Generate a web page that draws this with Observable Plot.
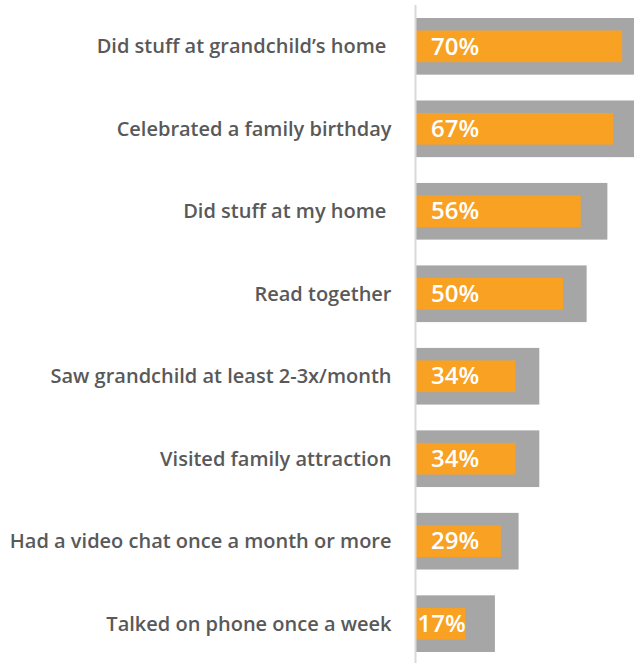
<!DOCTYPE html>
<html>
<head>
<meta charset="utf-8">
<script src="https://cdn.jsdelivr.net/npm/d3@7"></script>
<script src="https://cdn.jsdelivr.net/npm/@observablehq/plot@0.6"></script>
<style>
  html, body { margin: 0; padding: 0; background: #fff; overflow: hidden; }
  #chart svg { display: block; }
</style>
</head>
<body>
<div id="chart"></div>
<script>
const categories = [
  "Did stuff at grandchild’s home ",
  "Celebrated a family birthday",
  "Did stuff at my home ",
  "Read together",
  "Saw grandchild at least 2-3x/month",
  "Visited family attraction",
  "Had a video chat once a month or more",
  "Talked on phone once a week"
];
const orangeValues = [70, 67, 56, 50, 34, 34, 29, 17];
const grayValues = [78, 76, 65, 58, 42, 42, 35, 27];
const valueLabels = ["70%", "67%", "56%", "50%", "34%", "34%", "29%", "17%"];

const rows = categories.map((c, i) => ({
  category: c,
  value: orangeValues[i],
  gray: grayValues[i],
  label: valueLabels[i]
}));

const chart = Plot.plot({
  width: 634,
  height: 663,
  marginLeft: 415,
  marginRight: 0,
  marginTop: 5,
  marginBottom: 0,
  style: { fontFamily: "'Open Sans', sans-serif", fontWeight: 600, color: "#595959", background: "#fff" },
  x: { domain: [0, 74], axis: null },
  y: { domain: categories, range: [18, 652], paddingInner: 0.313, paddingOuter: 0, round: false, label: null },
  marks: [
    Plot.barX(rows, { x: "gray", y: "category", fill: "#a6a6a6", clip: true }),
    Plot.barX(rows, { x: "value", y: "category", fill: "#f9a122", insetTop: 12.5, insetBottom: 12.5 }),
    Plot.text(rows, {
      x: d => Math.min(d.value, 21.5),
      y: "category",
      text: "label",
      textAnchor: "end",
      fill: "white",
      fontSize: 24,
      fontWeight: 600
    }),
    Plot.axisY({ tickSize: 0, tickPadding: 24, fontSize: 20, fill: "#595959" }),
    Plot.ruleX([0], { stroke: "#d9d9d9", strokeWidth: 2 })
  ]
});
document.getElementById("chart").appendChild(chart);
</script>
</body>
</html>
